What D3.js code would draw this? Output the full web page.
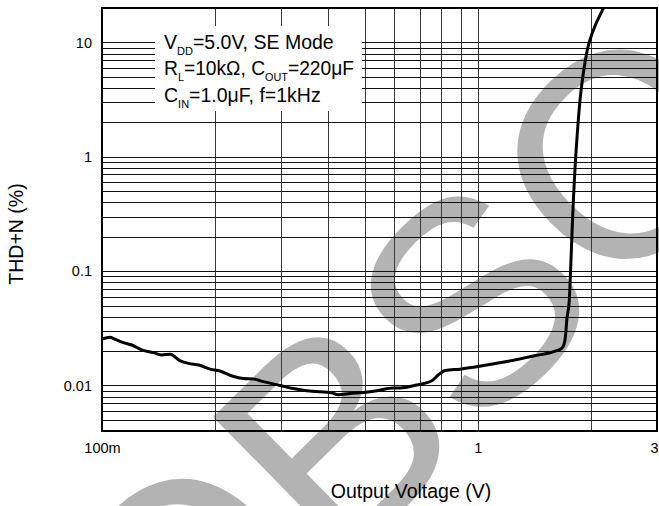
<!DOCTYPE html>
<html>
<head>
<meta charset="utf-8">
<script src="https://cdn.jsdelivr.net/npm/d3@7"></script>
<style>
  html, body { margin: 0; padding: 0; background: #fff; }
  svg { display: block; font-family: "Liberation Sans", Arial, Helvetica, sans-serif; }
</style>
</head>
<body>
<svg id="chart" width="659" height="506"></svg>
<script>
// THD+N versus output voltage, single-ended mode
const voltage = [0.100, 0.105, 0.108, 0.114, 0.120, 0.128, 0.137, 0.144, 0.152, 0.161,
                 0.170, 0.181, 0.194, 0.206, 0.222, 0.238, 0.253, 0.269, 0.298, 0.323,
                 0.351, 0.380, 0.405, 0.426, 0.457, 0.496, 0.539, 0.596, 0.621, 0.688,
                 0.755, 0.786, 0.819, 0.897, 1.057, 1.195, 1.406, 1.623, 1.673, 1.700,
                 1.715, 1.726, 1.753, 1.768, 1.782, 1.797, 1.816, 1.841, 1.872, 1.910,
                 1.957, 2.031, 2.159, 2.200];
const thdN    = [0.0254, 0.0264, 0.0255, 0.0237, 0.0226, 0.0204, 0.0194, 0.0185, 0.0188, 0.0165,
                 0.0156, 0.0151, 0.0139, 0.0134, 0.0121, 0.0115, 0.0114, 0.0108, 0.0100, 0.0094,
                 0.0090, 0.0088, 0.0087, 0.0083, 0.0085, 0.0087, 0.0090, 0.0095, 0.0095, 0.0101,
                 0.0110, 0.0124, 0.0135, 0.0139, 0.0151, 0.0162, 0.0181, 0.0202, 0.0211, 0.0234,
                 0.0286, 0.0374, 0.0560, 0.109, 0.214, 0.419, 0.819, 1.60, 3.14, 5.37,
                 8.59, 12.8, 19.9, 23.0];

const xDomain = [0.1, 3];
const yDomain = [0.004, 20];
const xTickValues = [0.1, 1, 3];
const xTickLabels = ["100m", "1", "3"];
const yTickValues = [0.01, 0.1, 1, 10];
const yTickLabels = ["0.01", "0.1", "1", "10"];

const xTitle = "Output Voltage (V)";
const yTitle = "THD+N (%)";
const watermark = "OBSOLETE";

const svg = d3.select("#chart");
const pL = 102, pR = 657, pT = 8, pB = 431;

const x = d3.scaleLog().domain(xDomain).range([pL, pR]);
const y = d3.scaleLog().domain(yDomain).range([pB, pT]);
const crisp = v => Math.round(v) + 0.5;

svg.append("rect").attr("width", 659).attr("height", 506).attr("fill", "#fff");

// large grey stamp behind the grid
svg.append("text")
  .attr("transform", "translate(175,734) rotate(-44.5)")
  .attr("font-size", 290)
  .attr("fill", "#b3b3b3")
  .text(watermark);

// log grid
const grid = svg.append("g");
const xGrid = x.ticks().filter(v => v > xDomain[0] * 1.0001 && v < xDomain[1] * 0.9999);
const yGrid = y.ticks().filter(v => v > yDomain[0] * 1.0001 && v < yDomain[1] * 0.9999);

grid.selectAll("line.v").data(xGrid).join("line")
  .attr("class", "v")
  .attr("x1", d => crisp(x(d))).attr("x2", d => crisp(x(d)))
  .attr("y1", pT).attr("y2", pB)
  .attr("stroke", "#3a3a3a").attr("stroke-width", 1);

grid.selectAll("line.h").data(yGrid).join("line")
  .attr("class", "h")
  .attr("x1", pL).attr("x2", pR)
  .attr("y1", d => crisp(y(d))).attr("y2", d => crisp(y(d)))
  .attr("stroke", "#111").attr("stroke-width", 1);

// condition box
const box = svg.append("g");
box.append("rect").attr("x", 155).attr("y", 26).attr("width", 207).attr("height", 85).attr("fill", "#fff");
const lines = [
  [["V", 0], ["DD", 1], ["=5.0V, SE Mode", 0]],
  [["R", 0], ["L", 1], ["=10k\u03A9, C", 0], ["OUT", 1], ["=220\u03BCF", 0]],
  [["C", 0], ["IN", 1], ["=1.0\u03BCF, f=1kHz", 0]]
];
const lineFit = [null, 190, null];
lines.forEach((parts, i) => {
  const t = box.append("text").attr("x", 164).attr("y", 48.5 + i * 26.7).attr("font-size", 19.5).attr("fill", "#000");
  if (lineFit[i]) t.attr("textLength", lineFit[i]).attr("lengthAdjust", "spacingAndGlyphs");
  let sub = false;
  parts.forEach(([s, isSub]) => {
    const ts = t.append("tspan").text(s);
    if (isSub) ts.attr("font-size", 11);
    if (isSub && !sub) { ts.attr("dy", 6); sub = true; }
    else if (!isSub && sub) { ts.attr("dy", -6); sub = false; }
  });
});

// curve
const line = d3.line().x(d => x(d[0])).y(d => y(d[1])).curve(d3.curveMonotoneX);
svg.append("clipPath").attr("id", "plotClip")
  .append("rect").attr("x", pL).attr("y", pT).attr("width", pR - pL).attr("height", pB - pT);
svg.append("path")
  .datum(voltage.map((v, i) => [v, thdN[i]]))
  .attr("clip-path", "url(#plotClip)")
  .attr("d", line)
  .attr("fill", "none").attr("stroke", "#000").attr("stroke-width", 3)
  .attr("stroke-linejoin", "round");

// frame
svg.append("rect").attr("x", pL).attr("y", pT).attr("width", pR - pL).attr("height", pB - pT)
  .attr("fill", "none").attr("stroke", "#000").attr("stroke-width", 2);

// tick labels through the library axes
const xAxis = d3.axisBottom(x).tickValues(xTickValues)
  .tickFormat((d, i) => xTickLabels[i]).tickSize(0).tickPadding(0);
const gx = svg.append("g").attr("transform", `translate(0,${pB})`).call(xAxis);
gx.select(".domain").remove();
gx.selectAll("text").attr("y", 22).attr("dy", 0).attr("font-size", 14.5)
  .attr("font-family", '"Liberation Sans", Arial, sans-serif').attr("fill", "#000");
// the last label sits flush with the right edge of the page
gx.selectAll(".tick").filter(d => d === xDomain[1]).select("text")
  .attr("text-anchor", "end").attr("x", 658 - pR);

const yAxis = d3.axisLeft(y).tickValues(yTickValues)
  .tickFormat((d, i) => yTickLabels[i]).tickSize(0).tickPadding(10);
const gy = svg.append("g").attr("transform", `translate(${pL},0)`).call(yAxis);
gy.select(".domain").remove();
gy.selectAll("text").attr("font-size", 14.5)
  .attr("font-family", '"Liberation Sans", Arial, sans-serif').attr("fill", "#000");

// axis titles
svg.append("text").attr("x", 411).attr("y", 498).attr("text-anchor", "middle")
  .attr("font-size", 19.5).attr("fill", "#000").text(xTitle);
svg.append("text").attr("transform", "translate(23,234) rotate(-90)").attr("text-anchor", "middle")
  .attr("font-size", 19.5).attr("fill", "#000").text(yTitle);
</script>
</body>
</html>
